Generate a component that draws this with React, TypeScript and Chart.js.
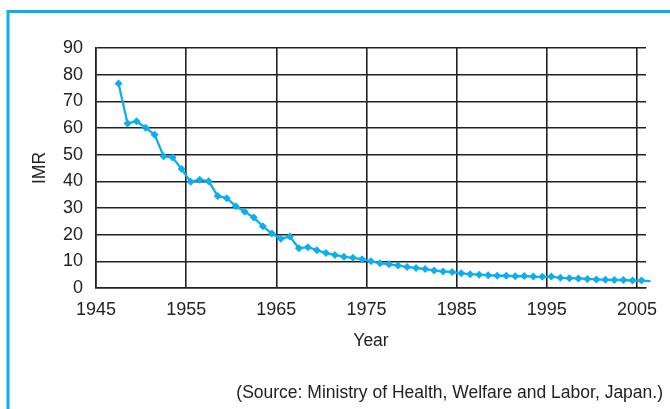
import React, { useEffect, useRef } from "react";
import { Chart, registerables } from "chart.js";

Chart.register(...registerables);

const years = [
  1947, 1948, 1949, 1950, 1951, 1952, 1953, 1954, 1955, 1956,
  1957, 1958, 1959, 1960, 1961, 1962, 1963, 1964, 1965, 1966,
  1967, 1968, 1969, 1970, 1971, 1972, 1973, 1974, 1975, 1976,
  1977, 1978, 1979, 1980, 1981, 1982, 1983, 1984, 1985, 1986,
  1987, 1988, 1989, 1990, 1991, 1992, 1993, 1994, 1995, 1996,
  1997, 1998, 1999, 2000, 2001, 2002, 2003, 2004, 2005, 2006,
];
const imr = [
  76.7, 61.7, 62.5, 60.1, 57.5, 49.4, 48.9, 44.6, 39.8, 40.6,
  40.0, 34.5, 33.7, 30.7, 28.6, 26.4, 23.2, 20.4, 18.5, 19.3,
  14.9, 15.3, 14.2, 13.1, 12.4, 11.7, 11.3, 10.8, 10.0, 9.3,
  8.9, 8.4, 7.9, 7.5, 7.1, 6.6, 6.2, 6.0, 5.5, 5.2,
  5.0, 4.8, 4.6, 4.6, 4.4, 4.5, 4.3, 4.2, 4.3, 3.8,
  3.7, 3.6, 3.4, 3.2, 3.1, 3.0, 3.0, 2.8, 2.8, 2.6,
];
const xTickValues = [1945, 1955, 1965, 1975, 1985, 1995, 2005];
const xMin = 1945;
const xMax = 2006;
const yMin = 0;
const yMax = 90;
const yStep = 10;
const xTitle = "Year";
const yTitle = "IMR";
const sourceText = "(Source: Ministry of Health, Welfare and Labor, Japan.)";

const FONT = "'Liberation Sans', Arial, Helvetica, sans-serif";
const CYAN = "#0DAEEE";
const GRID = "#222222";
const TEXT = "#222222";

const framePlugin = {
  id: "frameAndSource",
  afterDraw(chart: any) {
    const ctx = chart.ctx;
    ctx.save();
    ctx.strokeStyle = CYAN;
    ctx.lineWidth = 3;
    ctx.beginPath();
    ctx.moveTo(8, 409);
    ctx.lineTo(8, 11.5);
    ctx.lineTo(670, 11.5);
    ctx.stroke();
    ctx.fillStyle = TEXT;
    ctx.font = `17.5px ${FONT}`;
    ctx.textAlign = "right";
    ctx.textBaseline = "middle";
    ctx.fillText(sourceText, 663, 393);
    ctx.restore();
  },
};

export default function App() {
  const ref = useRef<HTMLCanvasElement | null>(null);
  useEffect(() => {
    if (!ref.current) return;
    const chart = new Chart(ref.current, {
      type: "line",
      data: {
        datasets: [
          {
            data: years.map((y, i) => ({ x: y + 0.5, y: imr[i] })),
            borderColor: CYAN,
            backgroundColor: CYAN,
            borderWidth: 2.3,
            pointStyle: "rectRot",
            pointRadius: years.map((y) => (y === 2006 ? 0 : 4)),
            pointBorderWidth: 0,
            pointBackgroundColor: CYAN,
            tension: 0,
            clip: false as any,
          },
        ],
      },
      options: {
        animation: false,
        responsive: false,
        maintainAspectRatio: false,
        layout: { padding: { left: 26, top: 48, right: 24, bottom: 53 } },
        plugins: {
          legend: { display: false },
          tooltip: { enabled: false },
        },
        scales: {
          x: {
            type: "linear",
            min: xMin,
            max: xMax,
            afterBuildTicks: (s: any) => {
              s.ticks = xTickValues.map((v) => ({ value: v }));
            },
            afterFit: (s: any) => {
              s.height = 68;
            },
            ticks: {
              callback: (v: any) => String(v),
              font: { family: FONT, size: 18 },
              color: TEXT,
              padding: 11,
              maxRotation: 0,
              autoSkip: false,
            },
            grid: { color: GRID, lineWidth: 1.6, drawTicks: false },
            border: { color: GRID, width: 1.6 },
            title: {
              display: true,
              text: xTitle,
              font: { family: FONT, size: 17.5 },
              color: TEXT,
              padding: { top: 4, bottom: 4 },
            },
          },
          y: {
            min: yMin,
            max: yMax,
            afterFit: (s: any) => {
              s.width = 70;
            },
            ticks: {
              stepSize: yStep,
              font: { family: FONT, size: 18 },
              color: TEXT,
              padding: 13,
            },
            grid: { color: GRID, lineWidth: 1.6, drawTicks: false },
            border: { color: GRID, width: 1.6 },
            title: {
              display: true,
              text: yTitle,
              font: { family: FONT, size: 17.5 },
              color: TEXT,
              padding: { top: 4, bottom: 4 },
            },
          },
        },
      },
      plugins: [framePlugin],
    });
    return () => chart.destroy();
  }, []);
  return (
    <div style={{ position: "fixed", left: 0, top: 0, width: 670, height: 409, background: "#fff" }}>
      <canvas ref={ref} width={670} height={409} style={{ display: "block" }} />
    </div>
  );
}
